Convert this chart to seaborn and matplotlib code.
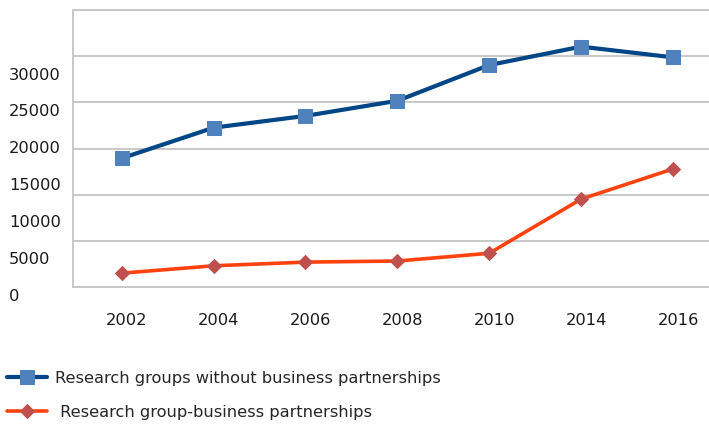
import numpy as np
import pandas as pd
import matplotlib
matplotlib.use("Agg")
import matplotlib.pyplot as plt
import matplotlib.transforms as mtransforms
import seaborn as sns

years = ["2002", "2004", "2006", "2008", "2010", "2014", "2016"]
without_partnerships = [18700, 22850, 24450, 26500, 31350, 33850, 32400]
with_partnerships = [3100, 4100, 4600, 4750, 5800, 13150, 17250]
y_tick_values = [0, 5000, 10000, 15000, 20000, 25000, 30000]
series_names = ["Research groups without business partnerships",
                " Research group-business partnerships"]

df = pd.DataFrame({
    "year": years * 2,
    "value": without_partnerships + with_partnerships,
    "series": [series_names[0]] * len(years) + [series_names[1]] * len(years),
})

sns.set_style("white")
plt.rcParams["font.family"] = ["DejaVu Sans"]
FS = 11.7
DPI = 100
W, H = 709, 424

fig = plt.figure(figsize=(W / DPI, H / DPI), dpi=DPI)
ax_left, ax_top, ax_bottom = 73, 10, 287
ax = fig.add_axes([ax_left / W, 1 - ax_bottom / H, (W - ax_left) / W, (ax_bottom - ax_top) / H])

sns.lineplot(data=df[df.series == series_names[0]], x="year", y="value", ax=ax,
             color="#004586", linewidth=3.0, marker="s", markersize=10.5,
             markerfacecolor="#4F81BD", markeredgecolor="#4F81BD",
             sort=False, label=series_names[0], zorder=3)
sns.lineplot(data=df[df.series == series_names[1]], x="year", y="value", ax=ax,
             color="#FF420E", linewidth=2.6, marker="D", markersize=7,
             markerfacecolor="#C0504D", markeredgecolor="#C0504D",
             sort=False, label=series_names[1], zorder=3)

# axis scaling (label scale)
ylo, yhi = 1222, 38825
ax.set_ylim(ylo, yhi)
ax.set_xlim(-0.530, 6.392)

# gridlines (evenly spaced, not aligned to labels as in reference)
ax.set_yticks(np.linspace(ylo, yhi, 7))
ax.set_yticklabels([])
ax.yaxis.grid(True, color="#C8C8C8", linewidth=1.4)
ax.xaxis.grid(False)
ax.tick_params(axis="both", length=0)
ax.tick_params(axis="x", pad=19, labelsize=FS, labelcolor="#1a1a1a")

for lbl in ax.get_xticklabels():
    lbl.set_transform(lbl.get_transform() + mtransforms.ScaledTranslation(5 / DPI, 0, fig.dpi_scale_trans))

for s in ["left", "top", "bottom"]:
    ax.spines[s].set_color("#C8C8C8")
    ax.spines[s].set_linewidth(1.4)
ax.spines["right"].set_visible(False)

ax.set_xlabel("")
ax.set_ylabel("")

# y labels, offset from gridlines as in reference
trans = mtransforms.blended_transform_factory(fig.transFigure, ax.transData)
for v in y_tick_values:
    ax.text(9 / W, v, str(v), transform=trans, ha="left", va="center",
            fontsize=FS, color="#1a1a1a", clip_on=False)

ax.legend_.remove()
handles, labels = ax.get_legend_handles_labels()
fig.legend(handles, labels, loc="upper left", bbox_to_anchor=(7 / W, 1 - 371 / H),
           frameon=False, fontsize=FS, handlelength=2.45, handletextpad=0.49,
           labelspacing=1.15, borderpad=0, borderaxespad=0)

fig.savefig("out.png", dpi=DPI)
